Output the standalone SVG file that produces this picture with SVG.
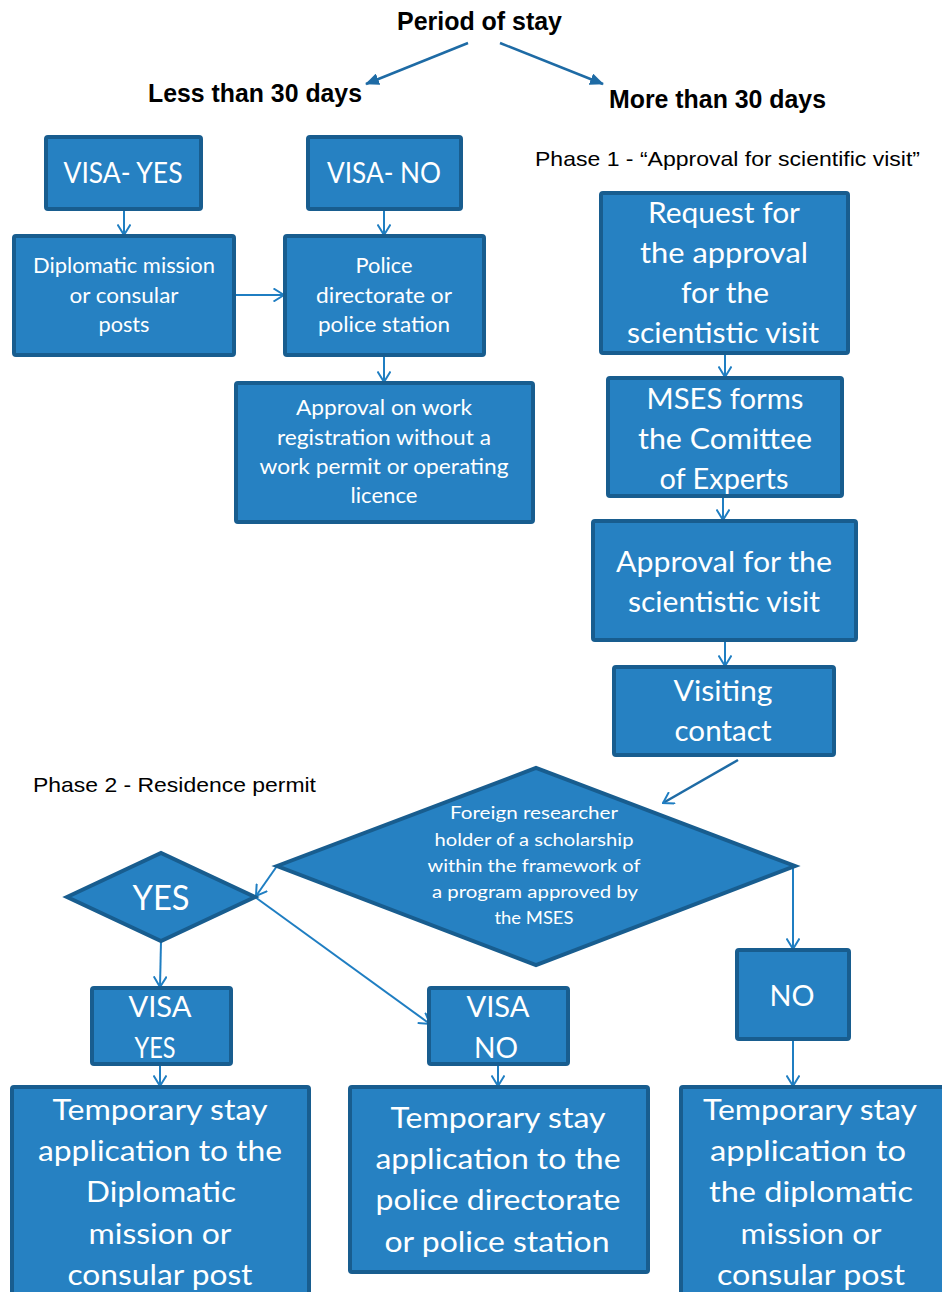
<svg xmlns="http://www.w3.org/2000/svg" width="942" height="1292" viewBox="0 0 942 1292">
<defs>
<style>
.bx{fill:#2681C2;stroke:#185D8F;stroke-width:4}
.t{font-family:Lato,"Open Sans",sans-serif;fill:#fff;text-anchor:middle}
.h{font-family:"Liberation Sans",Arial,sans-serif;font-weight:bold;fill:#000;font-size:25px}
.p{font-family:"Liberation Sans",Arial,sans-serif;fill:#000;font-size:21px}
.c{fill:none;stroke:#1F7EC2;stroke-width:2}
.k{fill:none;stroke:#1E6BA5;stroke-width:2.5}
</style>
<marker id="ov" viewBox="0 0 12 14" refX="11" refY="7" markerWidth="12" markerHeight="14" markerUnits="userSpaceOnUse" orient="auto">
<path d="M0.5,0.5 L11,7 L0.5,13.5" fill="none" stroke="#1F7EC2" stroke-width="2"/>
</marker>
<marker id="fa" viewBox="0 0 14 12" refX="13" refY="6" markerWidth="14" markerHeight="12" markerUnits="userSpaceOnUse" orient="auto">
<path d="M0,0 L14,6 L0,12 Z" fill="#1E6BA5"/>
</marker>
</defs>

<g id="labels">
<text class="h" x="397" y="30" textLength="165" lengthAdjust="spacingAndGlyphs">Period of stay</text>
<text class="h" x="148" y="102" textLength="214" lengthAdjust="spacingAndGlyphs">Less than 30 days</text>
<text class="h" x="609" y="108" textLength="217" lengthAdjust="spacingAndGlyphs">More than 30 days</text>
<text class="p" x="535" y="166" textLength="385" lengthAdjust="spacingAndGlyphs">Phase 1 - “Approval for scientific visit”</text>
<text class="p" x="33" y="792" textLength="283" lengthAdjust="spacingAndGlyphs">Phase 2 - Residence permit</text>
</g>

<g id="connectors">
<line class="k" x1="468" y1="43" x2="366" y2="84" marker-end="url(#fa)"/>
<line class="k" x1="500" y1="43" x2="603" y2="84" marker-end="url(#fa)"/>
<line class="c" x1="124" y1="209" x2="124" y2="235" marker-end="url(#ov)"/>
<line class="c" x1="384" y1="209" x2="384" y2="235" marker-end="url(#ov)"/>
<line class="c" x1="234" y1="295" x2="284" y2="295" marker-end="url(#ov)"/>
<line class="c" x1="384" y1="355" x2="384" y2="382" marker-end="url(#ov)"/>
<line class="c" x1="725" y1="353" x2="725" y2="377" marker-end="url(#ov)"/>
<line class="c" x1="723" y1="496" x2="723" y2="520" marker-end="url(#ov)"/>
<line class="c" x1="725" y1="640" x2="725" y2="666" marker-end="url(#ov)"/>
<line class="k" x1="738" y1="760" x2="663" y2="803" marker-end="url(#ov)"/>
<line class="c" x1="277" y1="866" x2="256" y2="896" marker-end="url(#ov)"/>
<line class="c" x1="255" y1="897" x2="430" y2="1024" marker-end="url(#ov)"/>
<line class="c" x1="161" y1="941" x2="160" y2="987" marker-end="url(#ov)"/>
<line class="c" x1="793" y1="867" x2="793" y2="949" marker-end="url(#ov)"/>
<line class="c" x1="160" y1="1064" x2="160" y2="1086" marker-end="url(#ov)"/>
<line class="c" x1="498" y1="1064" x2="498" y2="1086" marker-end="url(#ov)"/>
<line class="c" x1="793" y1="1039" x2="793" y2="1086" marker-end="url(#ov)"/>
</g>

<g id="visa-yes">
<rect class="bx" x="46" y="137" width="155" height="72" rx="2"/>
<text class="t" x="123" y="183" font-size="28" textLength="119" lengthAdjust="spacingAndGlyphs">VISA- YES</text>
</g>
<g id="visa-no">
<rect class="bx" x="308" y="137" width="153" height="72" rx="2"/>
<text class="t" x="384" y="183" font-size="28" textLength="114" lengthAdjust="spacingAndGlyphs">VISA- NO</text>
</g>
<g id="diplomatic">
<rect class="bx" x="14" y="236" width="220" height="119" rx="2"/>
<text class="t" x="124" y="273" font-size="21" textLength="182" lengthAdjust="spacingAndGlyphs">Diplomatic mission</text>
<text class="t" x="124" y="303" font-size="21" textLength="109" lengthAdjust="spacingAndGlyphs">or consular</text>
<text class="t" x="124" y="332" font-size="21" textLength="51" lengthAdjust="spacingAndGlyphs">posts</text>
</g>
<g id="police">
<rect class="bx" x="285" y="236" width="199" height="119" rx="2"/>
<text class="t" x="384" y="273" font-size="21" textLength="57" lengthAdjust="spacingAndGlyphs">Police</text>
<text class="t" x="384" y="303" font-size="21" textLength="136" lengthAdjust="spacingAndGlyphs">directorate or</text>
<text class="t" x="384" y="332" font-size="21" textLength="132" lengthAdjust="spacingAndGlyphs">police station</text>
</g>
<g id="approval-work">
<rect class="bx" x="236" y="383" width="297" height="139" rx="2"/>
<text class="t" x="384" y="415" font-size="21" textLength="176" lengthAdjust="spacingAndGlyphs">Approval on work</text>
<text class="t" x="384" y="445" font-size="21" textLength="214" lengthAdjust="spacingAndGlyphs">registration without a</text>
<text class="t" x="384" y="474" font-size="21" textLength="249" lengthAdjust="spacingAndGlyphs">work permit or operating</text>
<text class="t" x="384" y="503" font-size="21" textLength="67" lengthAdjust="spacingAndGlyphs">licence</text>
</g>

<g id="request">
<rect class="bx" x="601" y="193" width="247" height="160" rx="2"/>
<text class="t" x="724" y="223" font-size="28" textLength="152" lengthAdjust="spacingAndGlyphs">Request for</text>
<text class="t" x="724" y="263" font-size="28" textLength="168" lengthAdjust="spacingAndGlyphs">the approval</text>
<text class="t" x="725" y="303" font-size="28" textLength="88" lengthAdjust="spacingAndGlyphs">for the</text>
<text class="t" x="723" y="343" font-size="28" textLength="192" lengthAdjust="spacingAndGlyphs">scientistic visit</text>
</g>
<g id="mses">
<rect class="bx" x="608" y="378" width="234" height="118" rx="2"/>
<text class="t" x="725" y="409" font-size="28" textLength="157" lengthAdjust="spacingAndGlyphs">MSES forms</text>
<text class="t" x="725" y="449" font-size="28" textLength="174" lengthAdjust="spacingAndGlyphs">the Comittee</text>
<text class="t" x="724" y="489" font-size="28" textLength="129" lengthAdjust="spacingAndGlyphs">of Experts</text>
</g>
<g id="approval-visit">
<rect class="bx" x="593" y="521" width="263" height="119" rx="2"/>
<text class="t" x="724" y="572" font-size="29" textLength="216" lengthAdjust="spacingAndGlyphs">Approval for the</text>
<text class="t" x="724" y="612" font-size="29" textLength="192" lengthAdjust="spacingAndGlyphs">scientistic visit</text>
</g>
<g id="visiting">
<rect class="bx" x="614" y="667" width="220" height="88" rx="2"/>
<text class="t" x="723" y="701" font-size="28" textLength="99" lengthAdjust="spacingAndGlyphs">Visiting</text>
<text class="t" x="723" y="741" font-size="28" textLength="97" lengthAdjust="spacingAndGlyphs">contact</text>
</g>

<g id="decision">
<polygon class="bx" points="277,866 536,768 795,866 536,965"/>
<text class="t" x="534" y="819" font-size="17" textLength="168" lengthAdjust="spacingAndGlyphs">Foreign researcher</text>
<text class="t" x="534" y="846" font-size="17" textLength="199" lengthAdjust="spacingAndGlyphs">holder of a scholarship</text>
<text class="t" x="534" y="872" font-size="17" textLength="213" lengthAdjust="spacingAndGlyphs">within the framework of</text>
<text class="t" x="535" y="898" font-size="17" textLength="206" lengthAdjust="spacingAndGlyphs">a program approved by</text>
<text class="t" x="534" y="924" font-size="17" textLength="79" lengthAdjust="spacingAndGlyphs">the MSES</text>
</g>
<g id="yes">
<polygon class="bx" points="67,897 161,853 255,897 161,941"/>
<text class="t" x="161" y="910" font-size="34" textLength="57" lengthAdjust="spacingAndGlyphs">YES</text>
</g>

<g id="visa-yes-2">
<rect class="bx" x="92" y="988" width="139" height="76" rx="2"/>
<text class="t" x="160" y="1017" font-size="28" textLength="63" lengthAdjust="spacingAndGlyphs">VISA</text>
<text class="t" x="155" y="1058" font-size="28" textLength="41" lengthAdjust="spacingAndGlyphs">YES</text>
</g>
<g id="visa-no-2">
<rect class="bx" x="429" y="988" width="139" height="76" rx="2"/>
<text class="t" x="498" y="1017" font-size="28" textLength="63" lengthAdjust="spacingAndGlyphs">VISA</text>
<text class="t" x="496" y="1058" font-size="28" textLength="44" lengthAdjust="spacingAndGlyphs">NO</text>
</g>
<g id="no">
<rect class="bx" x="737" y="950" width="112" height="89" rx="2"/>
<text class="t" x="792" y="1006" font-size="28" textLength="45" lengthAdjust="spacingAndGlyphs">NO</text>
</g>

<g id="temp-diplomatic">
<rect class="bx" x="12" y="1087" width="297" height="215" rx="2"/>
<text class="t" x="160" y="1120" font-size="28" textLength="215" lengthAdjust="spacingAndGlyphs">Temporary stay</text>
<text class="t" x="160" y="1161" font-size="28" textLength="244" lengthAdjust="spacingAndGlyphs">application to the</text>
<text class="t" x="161" y="1202" font-size="28" textLength="150" lengthAdjust="spacingAndGlyphs">Diplomatic</text>
<text class="t" x="160" y="1244" font-size="28" textLength="143" lengthAdjust="spacingAndGlyphs">mission or</text>
<text class="t" x="160" y="1285" font-size="28" textLength="185" lengthAdjust="spacingAndGlyphs">consular post</text>
</g>
<g id="temp-police">
<rect class="bx" x="350" y="1087" width="298" height="185" rx="2"/>
<text class="t" x="498" y="1128" font-size="28" textLength="215" lengthAdjust="spacingAndGlyphs">Temporary stay</text>
<text class="t" x="498" y="1169" font-size="28" textLength="245" lengthAdjust="spacingAndGlyphs">application to the</text>
<text class="t" x="498" y="1210" font-size="28" textLength="245" lengthAdjust="spacingAndGlyphs">police directorate</text>
<text class="t" x="497" y="1252" font-size="28" textLength="225" lengthAdjust="spacingAndGlyphs">or police station</text>
</g>
<g id="temp-diplomatic-2">
<rect class="bx" x="681" y="1087" width="265" height="215" rx="2"/>
<text class="t" x="810" y="1120" font-size="28" textLength="214" lengthAdjust="spacingAndGlyphs">Temporary stay</text>
<text class="t" x="808" y="1161" font-size="28" textLength="196" lengthAdjust="spacingAndGlyphs">application to</text>
<text class="t" x="811" y="1202" font-size="28" textLength="204" lengthAdjust="spacingAndGlyphs">the diplomatic</text>
<text class="t" x="811" y="1244" font-size="28" textLength="141" lengthAdjust="spacingAndGlyphs">mission or</text>
<text class="t" x="811" y="1285" font-size="28" textLength="188" lengthAdjust="spacingAndGlyphs">consular post</text>
</g>
</svg>
